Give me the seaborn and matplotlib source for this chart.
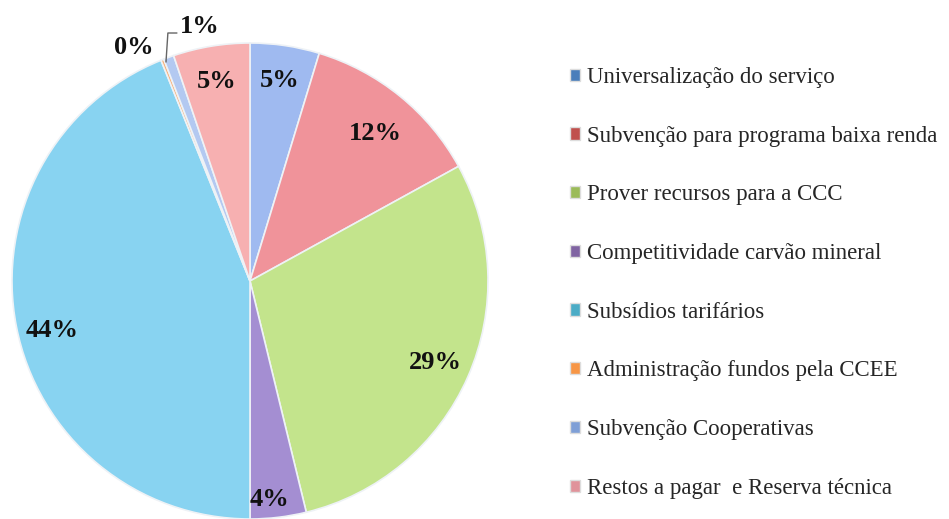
import matplotlib
matplotlib.use("Agg")
import matplotlib.pyplot as plt
from matplotlib.patches import Patch
import seaborn as sns

categories = [
    "Universalização do serviço",
    "Subvenção para programa baixa renda",
    "Prover recursos para a CCC",
    "Competitividade carvão mineral",
    "Subsídios tarifários",
    "Administração fundos pela CCEE",
    "Subvenção Cooperativas",
    "Restos a pagar  e Reserva técnica",
]
shares = [4.7, 12.3, 29.2, 3.8, 43.9, 0.2, 0.7, 5.2]

slice_colors = ["#9fbaf0", "#f0939a", "#c3e48c", "#a48ed2",
                "#88d3f1", "#f9b27a", "#b3c9f1", "#f7b0b1"]
legend_colors = ["#4a7ebb", "#c0504d", "#9bbb59", "#8064a2",
                 "#4bacc6", "#f79646", "#7f9fd6", "#e0939b"]


def main():
    sns.set_theme(style="white")
    plt.rcParams["font.family"] = ["Liberation Serif", "DejaVu Serif"]

    fig = plt.figure(figsize=(9.49, 5.19), dpi=100)
    # pie centred near (250, 281) px, radius ~238 px
    r_px = 238
    ax = fig.add_axes([(250 - r_px) / 949, (519 - 281 - r_px) / 519,
                       2 * r_px / 949, 2 * r_px / 519])

    wedges, _, pcts = ax.pie(
        shares,
        colors=slice_colors,
        startangle=90,
        counterclock=False,
        autopct=lambda p: f"{p:.0f}%",
        pctdistance=0.85,
        wedgeprops=dict(edgecolor="#eef2f6", linewidth=1.2),
        textprops=dict(fontsize=19, fontweight="bold", color="#111111"),
    )
    ax.set_xlim(-1, 1)
    ax.set_ylim(-1, 1)
    ax.set_aspect("equal")

    # nudge labels to where the original has them
    pcts[1].set_position((0.525, 0.62))
    pcts[3].set_position((0.08, -0.92))
    pcts[4].set_position((-0.83, -0.21))
    pcts[5].set_position((-0.49, 0.98))
    pcts[6].set_position((-0.21, 1.07))
    ax.plot([-0.353, -0.345, -0.307], [0.92, 1.042, 1.042],
            color="#666666", lw=1, clip_on=False)

    handles = [Patch(facecolor=c, edgecolor="#dddddd") for c in legend_colors]
    fig.legend(
        handles, categories,
        loc="upper left", bbox_to_anchor=(570 / 949, 1 - 67 / 519),
        frameon=False, fontsize=16.5,
        handlelength=0.45, handleheight=0.45, handletextpad=0.3,
        labelspacing=1.645, borderaxespad=0, borderpad=0,
    )

    fig.savefig("out.png", dpi=100)
    plt.close(fig)


if __name__ == "__main__":
    main()
